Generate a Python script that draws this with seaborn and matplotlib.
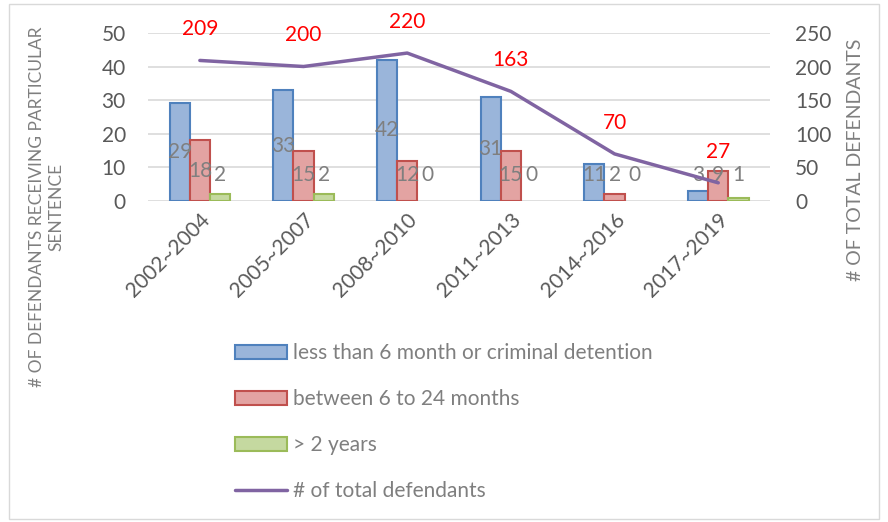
import numpy as np
import pandas as pd
import matplotlib.pyplot as plt
import seaborn as sns
from matplotlib.patches import Rectangle

periods = ["2002~2004", "2005~2007", "2008~2010", "2011~2013", "2014~2016", "2017~2019"]
short_sentence = [29, 33, 42, 31, 11, 3]
mid_sentence = [18, 15, 12, 15, 2, 9]
long_sentence = [2, 2, 0, 0, 0, 1]
total_defendants = [209, 200, 220, 163, 70, 27]

series_names = ["less than 6 month or criminal detention",
                "between 6 to 24 months",
                "> 2 years"]
face_colors = ["#9AB5DA", "#E3A3A2", "#C5D9A0"]
edge_colors = ["#4F81BD", "#C0504D", "#9BBB59"]
line_color = "#8064A2"
gray = "#7F7F7F"

df = pd.DataFrame({
    "period": periods * 3,
    "count": short_sentence + mid_sentence + long_sentence,
    "sentence": [s for s in series_names for _ in periods],
})

sns.set_style("white")
plt.rcParams["font.family"] = ["Lato", "DejaVu Sans"]

fig = plt.figure(figsize=(8.88, 5.22), dpi=100)
ax = fig.add_axes([0.1667, 0.615, 0.7005, 0.322])

sns.barplot(data=df, x="period", y="count", hue="sentence", palette=face_colors,
            width=0.585, ax=ax, legend=False, saturation=1)

for cont, ec in zip(ax.containers, edge_colors):
    for bar in cont:
        v = bar.get_height()
        bar.set_edgecolor(ec)
        bar.set_linewidth(1.5 if v > 0 else 0)
        ax.text(bar.get_x() + bar.get_width() / 2, max(v / 2, 7.6), f"{int(v)}",
                ha="center", va="center", fontsize=15, color=gray)

ax.set_ylim(0, 50)
ax.set_yticks(range(0, 51, 10))
ax.set_xlim(-0.5, len(periods) - 0.5)
ax.grid(axis="y", color="#D9D9D9", linewidth=1.2)
ax.set_axisbelow(True)
for s in ax.spines.values():
    s.set_visible(False)
ax.set_xlabel("")
ax.set_ylabel("")
ax.tick_params(axis="y", length=0, pad=16, labelsize=15, labelcolor="#595959")
ax.tick_params(axis="x", length=0, pad=6, labelsize=15, labelcolor="#595959")
plt.setp(ax.get_xticklabels(), rotation=45, ha="right", rotation_mode="anchor")

ax2 = ax.twinx()
sns.lineplot(x=np.arange(len(periods)), y=total_defendants, ax=ax2,
             color=line_color, linewidth=2.5)
ax2.set_ylim(0, 250)
ax2.set_yticks(range(0, 251, 50))
for s in ax2.spines.values():
    s.set_visible(False)
ax2.tick_params(axis="y", length=0, pad=18, labelsize=15, labelcolor="#595959")
for i, t in enumerate(total_defendants):
    ax2.annotate(f"{t}", (i, t), xytext=(0, 22.5), textcoords="offset points",
                 ha="center", va="center", fontsize=15, color="red")

fig.text(0.053, 1 - 207 / 522, "# OF DEFENDANTS RECEIVING PARTICULAR\nSENTENCE",
         rotation=90, ha="center", va="center", multialignment="center",
         fontsize=12.5, color=gray, linespacing=1.25)
fig.text(0.963, 1 - 160 / 522, "# OF TOTAL DEFENDANTS", rotation=90,
         ha="center", va="center", fontsize=14, color=gray)

handles = [Rectangle((0, 0), 1, 1, facecolor=fc, edgecolor=ec, linewidth=1.5)
           for fc, ec in zip(face_colors, edge_colors)]
handles.append(plt.Line2D([0], [0], color=line_color, linewidth=2.5))
labels = series_names + ["# of total defendants"]
leg = fig.legend(handles, labels, loc="upper left", bbox_to_anchor=(0.255, 1 - 335 / 522),
                 frameon=False, fontsize=15, labelspacing=1.25, handlelength=2.5,
                 handleheight=0.6, handletextpad=0.3, borderaxespad=0)
for txt in leg.get_texts():
    txt.set_color(gray)

fig.patches.append(Rectangle((0.01, 0.005), 0.98, 0.988, transform=fig.transFigure,
                             fill=False, edgecolor="#D9D9D9", linewidth=1))

fig.savefig("out.png", dpi=100)
